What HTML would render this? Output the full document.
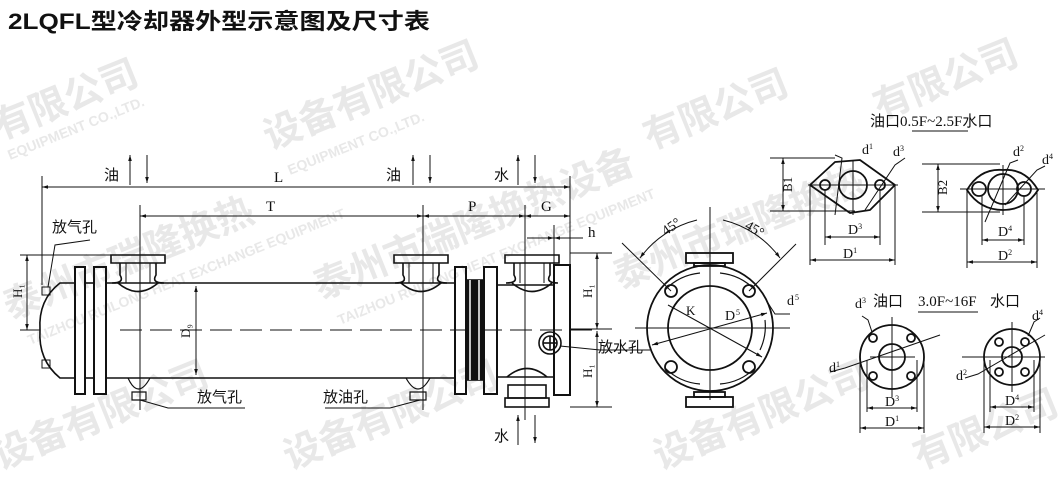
<!DOCTYPE html>
<html><head><meta charset="utf-8"><style>
html,body{margin:0;padding:0;background:#fff;}
svg{display:block;}
text{font-family:"Liberation Serif","Noto Serif CJK SC",serif;fill:#111;}
.cj{font-family:"Liberation Sans","Noto Sans CJK SC",sans-serif;}
.wm{font-family:"Liberation Sans","Noto Sans CJK SC",sans-serif;fill:#e6e6e6;font-weight:bold;}
</style></head><body>
<svg width="1058" height="477" viewBox="0 0 1058 477" xmlns="http://www.w3.org/2000/svg">
<defs>
<marker id="a" viewBox="0 0 10 10" refX="10" refY="5" markerWidth="9" markerHeight="6" orient="auto-start-reverse"><path d="M0,2L10,5L0,8z" fill="#111"/></marker>
</defs>
<g opacity="0.9">
<text class="wm" x="0" y="140" font-size="38" transform="rotate(-22 0 140)">有限公司</text>
<text class="wm" x="10" y="160" font-size="14" transform="rotate(-22 10 160)">EQUIPMENT CO.,LTD.</text>
<text class="wm" x="270" y="150" font-size="38" transform="rotate(-22 270 150)">设备有限公司</text>
<text class="wm" x="290" y="175" font-size="14" transform="rotate(-22 290 175)">EQUIPMENT CO.,LTD.</text>
<text class="wm" x="10" y="320" font-size="38" transform="rotate(-22 10 320)">泰州市瑞隆换热</text>
<text class="wm" x="30" y="345" font-size="14" transform="rotate(-22 30 345)">TAIZHOU RUILONG HEAT EXCHANGE EQUIPMENT</text>
<text class="wm" x="320" y="300" font-size="38" transform="rotate(-22 320 300)">泰州市瑞隆换热设备</text>
<text class="wm" x="340" y="325" font-size="14" transform="rotate(-22 340 325)">TAIZHOU RUILONG HEAT EXCHANGE EQUIPMENT</text>
<text class="wm" x="620" y="290" font-size="38" transform="rotate(-22 620 290)">泰州市瑞隆换热</text>
<text class="wm" x="650" y="150" font-size="38" transform="rotate(-22 650 150)">有限公司</text>
<text class="wm" x="880" y="120" font-size="38" transform="rotate(-22 880 120)">有限公司</text>
<text class="wm" x="0" y="470" font-size="38" transform="rotate(-22 0 470)">设备有限公司</text>
<text class="wm" x="290" y="470" font-size="38" transform="rotate(-22 290 470)">设备有限公司</text>
<text class="wm" x="660" y="470" font-size="38" transform="rotate(-22 660 470)">设备有限公司</text>
<text class="wm" x="920" y="470" font-size="38" transform="rotate(-22 920 470)">有限公司</text>
</g>

<text class="cj" x="8" y="29" font-size="22" font-weight="bold" textLength="422" lengthAdjust="spacingAndGlyphs">2LQFL型冷却器外型示意图及尺寸表</text>

<g stroke="#111" fill="none" stroke-width="1.6">
<line x1="120" y1="330" x2="600" y2="330" stroke-dasharray="22,8" stroke-width="1"/>
<line x1="106" y1="283" x2="455" y2="283"/>
<line x1="106" y1="378" x2="455" y2="378"/>
<path d="M75,283 L60,283 Q38,300 40,330 Q38,360 60,378 L75,378"/>
<rect x="75" y="267" width="10" height="127" stroke-width="2"/>
<rect x="94" y="267" width="12" height="127" stroke-width="2"/>
<line x1="85" y1="283" x2="94" y2="283"/><line x1="85" y1="378" x2="94" y2="378"/>
<rect x="42" y="287" width="8" height="8" stroke-width="1"/><rect x="42" y="360" width="8" height="8" stroke-width="1"/>
<rect x="455" y="267" width="11" height="127" stroke-width="2"/>
<rect x="466" y="280" width="18" height="100" fill="#111"/>
<line x1="470" y1="280" x2="470" y2="380" stroke="#fff" stroke-width="1.5"/>
<line x1="479" y1="280" x2="479" y2="380" stroke="#fff" stroke-width="1.5"/>
<rect x="484" y="267" width="13" height="127" stroke-width="2"/>
<line x1="497" y1="285" x2="554" y2="285"/><line x1="497" y1="377" x2="554" y2="377"/>
<rect x="554" y="265" width="16" height="130" stroke-width="2"/>
<circle cx="550" cy="343" r="11"/><circle cx="550" cy="343" r="7"/>
<line x1="543" y1="343" x2="557" y2="343"/><line x1="550" y1="336" x2="550" y2="350"/>
<g id="nz">
<path d="M111,255 L165,255 L165,263 L111,263 Z"/>
<path d="M120,263 L120,275 Q125,283 112,283 M156,263 L156,275 Q151,283 164,283"/>
<path d="M118,283 Q138,300 158,283"/>
<line x1="126" y1="263" x2="126" y2="283" stroke-width="1"/><line x1="150" y1="263" x2="150" y2="283" stroke-width="1"/>
</g>
<use href="#nz" transform="translate(283,0)"/>
<use href="#nz" transform="translate(394,0)"/>
<path d="M128,378 Q138,400 150,378 M132,392 L146,392 L146,400 L132,400Z" stroke-width="1.2"/>
<path d="M406,378 Q418,400 430,378 M410,392 L426,392 L426,400 L410,400Z" stroke-width="1.2"/>
<path d="M507,377 Q527,360 547,377"/>
<rect x="508" y="385" width="38" height="13"/>
<rect x="505" y="398" width="44" height="9"/>
<g stroke-width="1">
<line x1="42" y1="176" x2="42" y2="285"/>
<line x1="570" y1="176" x2="570" y2="265"/>
<line x1="42" y1="187" x2="570" y2="187" marker-start="url(#a)" marker-end="url(#a)"/>
<line x1="140" y1="205" x2="140" y2="410"/>
<line x1="423" y1="205" x2="423" y2="410"/>
<line x1="525" y1="205" x2="525" y2="420"/>
<line x1="140" y1="216" x2="423" y2="216" marker-start="url(#a)" marker-end="url(#a)"/>
<line x1="423" y1="216" x2="525" y2="216" marker-start="url(#a)" marker-end="url(#a)"/>
<line x1="525" y1="216" x2="570" y2="216" marker-start="url(#a)" marker-end="url(#a)"/>
<line x1="554" y1="225" x2="554" y2="265"/>
<line x1="527" y1="238" x2="554" y2="238" marker-end="url(#a)"/>
<line x1="554" y1="238" x2="583" y2="238" marker-start="url(#a)"/>
<line x1="20" y1="255" x2="111" y2="255"/>
<line x1="20" y1="330" x2="40" y2="330"/>
<line x1="27" y1="255" x2="27" y2="330" marker-start="url(#a)" marker-end="url(#a)"/>
<line x1="196" y1="286" x2="196" y2="375" marker-start="url(#a)" marker-end="url(#a)"/>
<line x1="570" y1="253" x2="612" y2="253"/><line x1="570" y1="407" x2="612" y2="407"/>
<line x1="570" y1="329" x2="612" y2="329"/>
<line x1="597" y1="253" x2="597" y2="329" marker-start="url(#a)" marker-end="url(#a)"/>
<line x1="597" y1="331" x2="597" y2="407" marker-start="url(#a)" marker-end="url(#a)"/>
<line x1="130" y1="185" x2="130" y2="155" marker-end="url(#a)"/><line x1="147" y1="155" x2="147" y2="183" marker-end="url(#a)"/>
<line x1="413" y1="185" x2="413" y2="155" marker-end="url(#a)"/><line x1="430" y1="155" x2="430" y2="183" marker-end="url(#a)"/>
<line x1="518" y1="185" x2="518" y2="155" marker-end="url(#a)"/><line x1="535" y1="155" x2="535" y2="183" marker-end="url(#a)"/>
<line x1="518" y1="445" x2="518" y2="415" marker-end="url(#a)"/><line x1="535" y1="415" x2="535" y2="443" marker-end="url(#a)"/>
<polyline points="48,287 55,245 90,240"/>
<polyline points="140,400 168,408 245,408"/>
<polyline points="420,400 390,408 325,408"/>
<polyline points="560,346 600,350 650,350"/>
</g>
</g>
<g font-size="15">
<text class="cj" x="104" y="180">油</text><text class="cj" x="386" y="180">油</text><text class="cj" x="494" y="180">水</text>
<text class="cj" x="494" y="441">水</text>
<text x="274" y="182">L</text><text x="266" y="211">T</text><text x="468" y="211">P</text><text x="541" y="211">G</text>
<text x="588" y="237">h</text>
<text class="cj" x="52" y="232">放气孔</text>
<text class="cj" x="197" y="402">放气孔</text>
<text class="cj" x="323" y="402">放油孔</text>
<text class="cj" x="598" y="352">放水孔</text>
<text x="0" y="0" transform="translate(22,298) rotate(-90)" font-size="13">H₁</text>
<text x="0" y="0" transform="translate(190,338) rotate(-90)" font-size="13">D₉</text>
<text x="0" y="0" transform="translate(592,298) rotate(-90)" font-size="13">H₁</text>
<text x="0" y="0" transform="translate(592,378) rotate(-90)" font-size="13">H₁</text>
</g>

<g stroke="#111" fill="none" stroke-width="1.8">
<circle cx="710" cy="328" r="63"/>
<circle cx="710" cy="328" r="42"/>
<path d="M665,290 A56,56 0 0 1 700,273 M720,273 A56,56 0 0 1 755,290 M765,320 A56,56 0 0 1 760,350 M755,368 A56,56 0 0 1 720,384 M700,384 A56,56 0 0 1 665,368" stroke-width="1.2"/>
<circle cx="671" cy="291" r="6"/><circle cx="749" cy="291" r="6"/>
<circle cx="671" cy="367" r="6"/><circle cx="749" cy="367" r="6"/>
<rect x="686" y="253" width="47" height="10"/><rect x="694" y="263" width="31" height="3"/>
<rect x="686" y="397" width="47" height="10"/><rect x="694" y="392" width="31" height="5"/>
<g stroke-width="1">
<line x1="710" y1="207" x2="710" y2="400"/>
<line x1="635" y1="328" x2="790" y2="328"/>
<line x1="622" y1="243" x2="671" y2="291"/>
<line x1="796" y1="244" x2="749" y2="291"/>
<path d="M640,258 A100,100 0 0 1 697,220" marker-start="url(#a)"/>
<path d="M723,220 A100,100 0 0 1 780,258" marker-end="url(#a)"/>
<line x1="668" y1="305" x2="762" y2="357" marker-end="url(#a)"/>
<line x1="652" y1="345" x2="767" y2="313" marker-start="url(#a)" marker-end="url(#a)"/>
<polyline points="768,303 775,314 790,314"/>
</g>
</g>
<g font-size="14">
<text x="662" y="232" transform="rotate(-35 670 228)">45°</text>
<text x="745" y="232" transform="rotate(30 752 228)">45°</text>
<text x="686" y="315" font-size="13">K</text>
<text x="725" y="320" font-size="14">D</text><text x="736" y="315" font-size="8">5</text>
<text x="787" y="305">d</text><text x="795" y="300" font-size="8">5</text>
</g>

<g stroke="#111" fill="none" stroke-width="1.8">
<path d="M810,185 L835,162 L860,160 L895,185 L870,210 L850,213 Z" stroke-linejoin="round"/>
<circle cx="853" cy="185" r="14"/>
<circle cx="825" cy="185" r="5"/><circle cx="880" cy="185" r="5"/>
<path d="M967,190 Q980,168 1003,170 Q1025,168 1038,190 Q1025,210 1003,210 Q980,210 967,190Z"/>
<circle cx="1003" cy="189" r="15"/>
<circle cx="979" cy="189" r="7"/><circle cx="1024" cy="189" r="7"/>
<circle cx="892" cy="357" r="32"/><circle cx="892" cy="357" r="13"/>
<circle cx="873" cy="338" r="4"/><circle cx="911" cy="338" r="4"/><circle cx="873" cy="376" r="4"/><circle cx="911" cy="376" r="4"/>
<circle cx="1012" cy="357" r="28"/><circle cx="1012" cy="357" r="10"/>
<circle cx="1025" cy="342" r="4"/><circle cx="999" cy="372" r="4"/><circle cx="1025" cy="372" r="4"/><circle cx="999" cy="342" r="4"/>
<g stroke-width="1">
<line x1="808" y1="185" x2="898" y2="185"/><line x1="853" y1="160" x2="853" y2="215"/>
<line x1="960" y1="189" x2="1045" y2="189"/><line x1="1003" y1="165" x2="1003" y2="215"/>
<line x1="770" y1="158" x2="835" y2="158"/><line x1="770" y1="211" x2="855" y2="211"/>
<line x1="783" y1="158" x2="783" y2="211" marker-start="url(#a)" marker-end="url(#a)"/>
<line x1="922" y1="164" x2="1000" y2="164"/><line x1="922" y1="212" x2="1000" y2="212"/>
<line x1="938" y1="164" x2="938" y2="212" marker-start="url(#a)" marker-end="url(#a)"/>
<line x1="810" y1="185" x2="810" y2="265"/><line x1="895" y1="185" x2="895" y2="265"/>
<line x1="825" y1="190" x2="825" y2="245"/><line x1="880" y1="190" x2="880" y2="245"/>
<line x1="825" y1="237" x2="880" y2="237" marker-start="url(#a)" marker-end="url(#a)"/>
<line x1="810" y1="260" x2="895" y2="260" marker-start="url(#a)" marker-end="url(#a)"/>
<line x1="967" y1="190" x2="967" y2="268"/><line x1="1037" y1="190" x2="1037" y2="268"/>
<line x1="982" y1="196" x2="982" y2="245"/><line x1="1024" y1="196" x2="1024" y2="245"/>
<line x1="982" y1="240" x2="1024" y2="240" marker-start="url(#a)" marker-end="url(#a)"/>
<line x1="967" y1="262" x2="1037" y2="262" marker-start="url(#a)" marker-end="url(#a)"/>
<polyline points="835,155 842,158 835,215"/><polyline points="905,158 895,165 865,210"/>
<polyline points="1018,160 1010,163 985,222"/><polyline points="1045,166 1037,170 1005,205"/>
<line x1="870" y1="357" x2="915" y2="357"/><line x1="892" y1="317" x2="892" y2="397"/>
<line x1="962" y1="357" x2="1045" y2="357"/><line x1="1012" y1="322" x2="1012" y2="392"/>
<line x1="860" y1="357" x2="860" y2="433"/><line x1="924" y1="357" x2="924" y2="433"/>
<line x1="867" y1="360" x2="867" y2="412"/><line x1="917" y1="360" x2="917" y2="412"/>
<line x1="867" y1="408" x2="917" y2="408" marker-start="url(#a)" marker-end="url(#a)"/>
<line x1="860" y1="428" x2="924" y2="428" marker-start="url(#a)" marker-end="url(#a)"/>
<line x1="984" y1="357" x2="984" y2="433"/><line x1="1040" y1="357" x2="1040" y2="433"/>
<line x1="990" y1="360" x2="990" y2="412"/><line x1="1034" y1="360" x2="1034" y2="412"/>
<line x1="990" y1="407" x2="1034" y2="407" marker-start="url(#a)" marker-end="url(#a)"/>
<line x1="984" y1="427" x2="1040" y2="427" marker-start="url(#a)" marker-end="url(#a)"/>
<polyline points="830,372 845,368 940,335"/>
<polyline points="965,378 978,374 1045,335"/>
<polyline points="862,316 868,320 872,332"/><polyline points="1040,318 1034,322 1028,336"/>
</g>
</g>
<g font-size="14">
<text class="cj" x="870" y="126" font-size="15">油口<tspan font-family="Liberation Serif">0.5F~2.5F</tspan>水口</text>
<line x1="912" y1="131" x2="968" y2="131" stroke="#111"/>
<text x="0" y="0" transform="translate(792,192) rotate(-90)" font-size="13">B1</text>
<text x="0" y="0" transform="translate(947,195) rotate(-90)" font-size="13">B2</text>
<text x="862" y="154">d<tspan font-size="8" dy="-5">1</tspan></text>
<text x="893" y="156">d<tspan font-size="8" dy="-5">3</tspan></text>
<text x="1013" y="156">d<tspan font-size="8" dy="-5">2</tspan></text>
<text x="1042" y="164">d<tspan font-size="8" dy="-5">4</tspan></text>
<text x="848" y="234">D<tspan font-size="8" dy="-5">3</tspan></text>
<text x="843" y="258">D<tspan font-size="8" dy="-5">1</tspan></text>
<text x="998" y="236">D<tspan font-size="8" dy="-5">4</tspan></text>
<text x="998" y="260">D<tspan font-size="8" dy="-5">2</tspan></text>
<text x="855" y="308">d<tspan font-size="8" dy="-5">3</tspan></text>
<text class="cj" x="873" y="306" font-size="15">油口</text>
<text x="918" y="306" font-size="15">3.0F~16F</text>
<line x1="918" y1="312" x2="978" y2="312" stroke="#111"/>
<text class="cj" x="990" y="306" font-size="15">水口</text>
<text x="1032" y="320">d<tspan font-size="8" dy="-5">4</tspan></text>
<text x="829" y="372">d<tspan font-size="8" dy="-5">1</tspan></text>
<text x="956" y="380">d<tspan font-size="8" dy="-5">2</tspan></text>
<text x="885" y="406">D<tspan font-size="8" dy="-5">3</tspan></text>
<text x="885" y="426">D<tspan font-size="8" dy="-5">1</tspan></text>
<text x="1005" y="405">D<tspan font-size="8" dy="-5">4</tspan></text>
<text x="1005" y="425">D<tspan font-size="8" dy="-5">2</tspan></text>
</g>
</svg>
</body></html>
